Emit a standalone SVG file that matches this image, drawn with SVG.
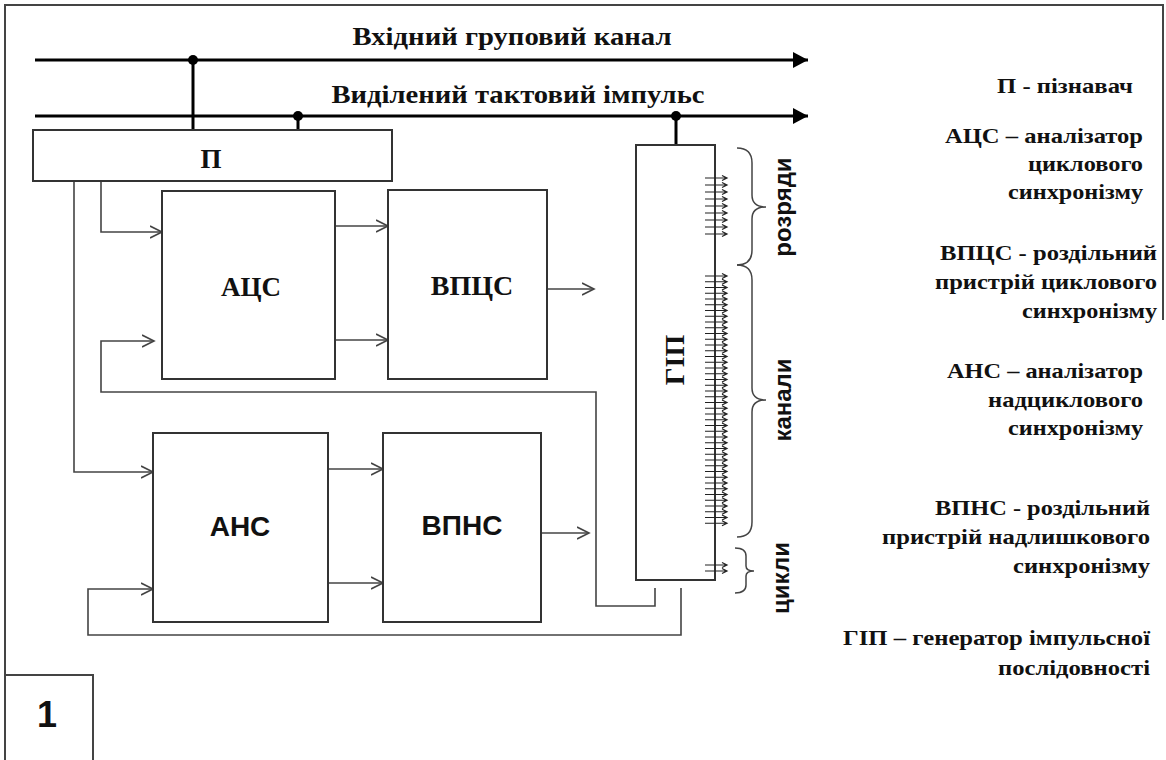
<svg xmlns="http://www.w3.org/2000/svg" xmlns:xlink="http://www.w3.org/1999/xlink" width="1166" height="760" viewBox="0 0 1166 760">
<style>
.frame{fill:none;stroke:#444;stroke-width:2}
.box{fill:#fff;stroke:#333;stroke-width:2}
.bus{fill:none;stroke:#000;stroke-width:3}
.wire{fill:none;stroke:#444;stroke-width:1.6}
.tk{fill:none;stroke:#222;stroke-width:1.2}
.brace{fill:none;stroke:#444;stroke-width:1.5}
.serif{font-family:"Liberation Serif","Times New Roman",serif;font-weight:bold;fill:#111}
.sans{font-family:"Liberation Sans",Arial,sans-serif;font-weight:bold;fill:#111}
.leg{font-family:"Liberation Serif","Times New Roman",serif;font-weight:bold;font-size:22px;fill:#111;text-anchor:end}
</style>
<defs>
<marker id="big" markerUnits="userSpaceOnUse" markerWidth="16" markerHeight="16" refX="15" refY="8" orient="auto">
<path d="M0,0 L15,8 L0,16 Z" fill="#000"/>
</marker>
<marker id="open" markerUnits="userSpaceOnUse" markerWidth="14" markerHeight="14" refX="12" refY="7" orient="auto">
<path d="M0,1 L12,7 L0,13" fill="none" stroke="#444" stroke-width="1.6"/>
</marker>
<path id="tick" d="M705,0 H727 M722,-2.5 L727,0 L722,2.5" class="tk"/>
</defs>

<g id="frame">
<path class="frame" d="M5,760 V5 H1163 V320"/>
<rect class="frame" x="5" y="675" width="88" height="90"/>
<text class="sans" x="47" y="727" font-size="36" text-anchor="middle">1</text>
</g>

<g id="titles">
<text class="serif" x="512" y="45" font-size="26" text-anchor="middle" textLength="319" lengthAdjust="spacingAndGlyphs">Вхідний груповий канал</text>
<text class="serif" x="518" y="103" font-size="26" text-anchor="middle" textLength="373" lengthAdjust="spacingAndGlyphs">Виділений тактовий імпульс</text>
</g>

<g id="connectors">
<path class="bus" d="M35,60 H808" marker-end="url(#big)"/>
<path class="bus" d="M35,116 H808" marker-end="url(#big)"/>
<path class="bus" d="M193,60 V130"/>
<path class="bus" d="M298,116 V130"/>
<path class="bus" d="M676,116 V152"/>
<circle cx="193" cy="60" r="5" fill="#000"/>
<circle cx="298" cy="116" r="5" fill="#000"/>
<circle cx="676" cy="116" r="5" fill="#000"/>
<path class="wire" d="M101,181 V232 H162" marker-end="url(#open)"/>
<path class="wire" d="M74,181 V472 H153" marker-end="url(#open)"/>
<path class="wire" d="M335,226 H388" marker-end="url(#open)"/>
<path class="wire" d="M335,340 H388" marker-end="url(#open)"/>
<path class="wire" d="M547,289 H594" marker-end="url(#open)"/>
<path class="wire" d="M328,469 H383" marker-end="url(#open)"/>
<path class="wire" d="M328,583 H383" marker-end="url(#open)"/>
<path class="wire" d="M541,533 H589" marker-end="url(#open)"/>
<path class="wire" d="M655,588 V606 H596 V392 H101 V341 H154" marker-end="url(#open)"/>
<path class="wire" d="M681,588 V635 H88 V589 H153" marker-end="url(#open)"/>
</g>

<g id="node-P">
<rect class="box" x="33" y="130" width="359" height="51"/>
<text class="serif" x="211" y="168" font-size="27" text-anchor="middle" textLength="21" lengthAdjust="spacingAndGlyphs">П</text>
</g>

<g id="node-ACS">
<rect class="box" x="162" y="191" width="173" height="188"/>
<text class="serif" x="251" y="296" font-size="27" text-anchor="middle">АЦС</text>
</g>

<g id="node-VPCS">
<rect class="box" x="388" y="190" width="159" height="189"/>
<text class="serif" x="472" y="295" font-size="28" text-anchor="middle">ВПЦС</text>
</g>

<g id="node-ANS">
<rect class="box" x="153" y="433" width="175" height="189"/>
<text class="sans" x="240" y="536" font-size="28" text-anchor="middle">АНС</text>
</g>

<g id="node-VPNS">
<rect class="box" x="383" y="433" width="158" height="189"/>
<text class="sans" x="462" y="535" font-size="28" text-anchor="middle">ВПНС</text>
</g>

<g id="node-GIP">
<rect class="box" x="636" y="145" width="79" height="435"/>
<text class="serif" x="684" y="360" font-size="28" text-anchor="middle" transform="rotate(-90 684 360)">ГІП</text>
<g id="ticks">
<use xlink:href="#tick" y="178"/><use xlink:href="#tick" y="185"/><use xlink:href="#tick" y="192"/>
<use xlink:href="#tick" y="199"/><use xlink:href="#tick" y="206"/><use xlink:href="#tick" y="213"/>
<use xlink:href="#tick" y="220"/><use xlink:href="#tick" y="227"/><use xlink:href="#tick" y="234"/>
<use xlink:href="#tick" y="276"/><use xlink:href="#tick" y="281.75"/><use xlink:href="#tick" y="287.5"/>
<use xlink:href="#tick" y="293.25"/><use xlink:href="#tick" y="299"/><use xlink:href="#tick" y="304.75"/>
<use xlink:href="#tick" y="310.5"/><use xlink:href="#tick" y="316.25"/><use xlink:href="#tick" y="322"/>
<use xlink:href="#tick" y="327.75"/><use xlink:href="#tick" y="333.5"/><use xlink:href="#tick" y="339.25"/>
<use xlink:href="#tick" y="345"/><use xlink:href="#tick" y="350.75"/><use xlink:href="#tick" y="356.5"/>
<use xlink:href="#tick" y="362.25"/><use xlink:href="#tick" y="368"/><use xlink:href="#tick" y="373.75"/>
<use xlink:href="#tick" y="379.5"/><use xlink:href="#tick" y="385.25"/><use xlink:href="#tick" y="391"/>
<use xlink:href="#tick" y="396.75"/><use xlink:href="#tick" y="402.5"/><use xlink:href="#tick" y="408.25"/>
<use xlink:href="#tick" y="414"/><use xlink:href="#tick" y="419.75"/><use xlink:href="#tick" y="425.5"/>
<use xlink:href="#tick" y="431.25"/><use xlink:href="#tick" y="437"/><use xlink:href="#tick" y="442.75"/>
<use xlink:href="#tick" y="448.5"/><use xlink:href="#tick" y="454.25"/><use xlink:href="#tick" y="460"/>
<use xlink:href="#tick" y="465.75"/><use xlink:href="#tick" y="471.5"/><use xlink:href="#tick" y="477.25"/>
<use xlink:href="#tick" y="483"/><use xlink:href="#tick" y="488.75"/><use xlink:href="#tick" y="494.5"/>
<use xlink:href="#tick" y="500.25"/><use xlink:href="#tick" y="506"/><use xlink:href="#tick" y="511.75"/>
<use xlink:href="#tick" y="517.5"/><use xlink:href="#tick" y="523.25"/>
<use xlink:href="#tick" y="565"/><use xlink:href="#tick" y="571"/>
</g>
</g>

<g id="braces">
<path class="brace" d="M737,148 Q752,148 752,163 V195 Q752,207 766,207 Q752,207 752,219 V250 Q752,265 737,265"/>
<path class="brace" d="M737,265 Q752,265 752,280 V388 Q752,400 766,400 Q752,400 752,412 V522 Q752,537 737,537"/>
<path class="brace" d="M735,548 Q746,548 746,556 V566 Q746,571 754,571 Q746,571 746,576 V585 Q746,593 735,593"/>
<text class="sans" x="791" y="207" font-size="24" text-anchor="middle" transform="rotate(-90 791 207)">розряди</text>
<text class="sans" x="791" y="400" font-size="24" text-anchor="middle" transform="rotate(-90 791 400)">канали</text>
<text class="sans" x="789" y="578" font-size="24" text-anchor="middle" transform="rotate(-90 789 578)">цикли</text>
</g>

<g id="legend">
<text class="leg" x="1133" y="93" textLength="136" lengthAdjust="spacingAndGlyphs">П - пізнавач</text>
<text class="leg" x="1143" y="143" textLength="198" lengthAdjust="spacingAndGlyphs">АЦС – аналізатор</text>
<text class="leg" x="1143" y="171" textLength="115" lengthAdjust="spacingAndGlyphs">циклового</text>
<text class="leg" x="1143" y="199" textLength="135" lengthAdjust="spacingAndGlyphs">синхронізму</text>
<text class="leg" x="1157" y="260" textLength="217" lengthAdjust="spacingAndGlyphs">ВПЦС - роздільний</text>
<text class="leg" x="1157" y="289" textLength="222" lengthAdjust="spacingAndGlyphs">пристрій циклового</text>
<text class="leg" x="1157" y="318" textLength="135" lengthAdjust="spacingAndGlyphs">синхронізму</text>
<text class="leg" x="1143" y="378" textLength="196" lengthAdjust="spacingAndGlyphs">АНС – аналізатор</text>
<text class="leg" x="1143" y="407" textLength="155" lengthAdjust="spacingAndGlyphs">надциклового</text>
<text class="leg" x="1143" y="435" textLength="135" lengthAdjust="spacingAndGlyphs">синхронізму</text>
<text class="leg" x="1150" y="515" textLength="215" lengthAdjust="spacingAndGlyphs">ВПНС - роздільний</text>
<text class="leg" x="1150" y="544" textLength="268" lengthAdjust="spacingAndGlyphs">пристрій надлишкового</text>
<text class="leg" x="1150" y="573" textLength="137" lengthAdjust="spacingAndGlyphs">синхронізму</text>
<text class="leg" x="1150" y="645" textLength="307" lengthAdjust="spacingAndGlyphs">ГІП – генератор імпульсної</text>
<text class="leg" x="1150" y="675" textLength="152" lengthAdjust="spacingAndGlyphs">послідовності</text>
</g>
</svg>
